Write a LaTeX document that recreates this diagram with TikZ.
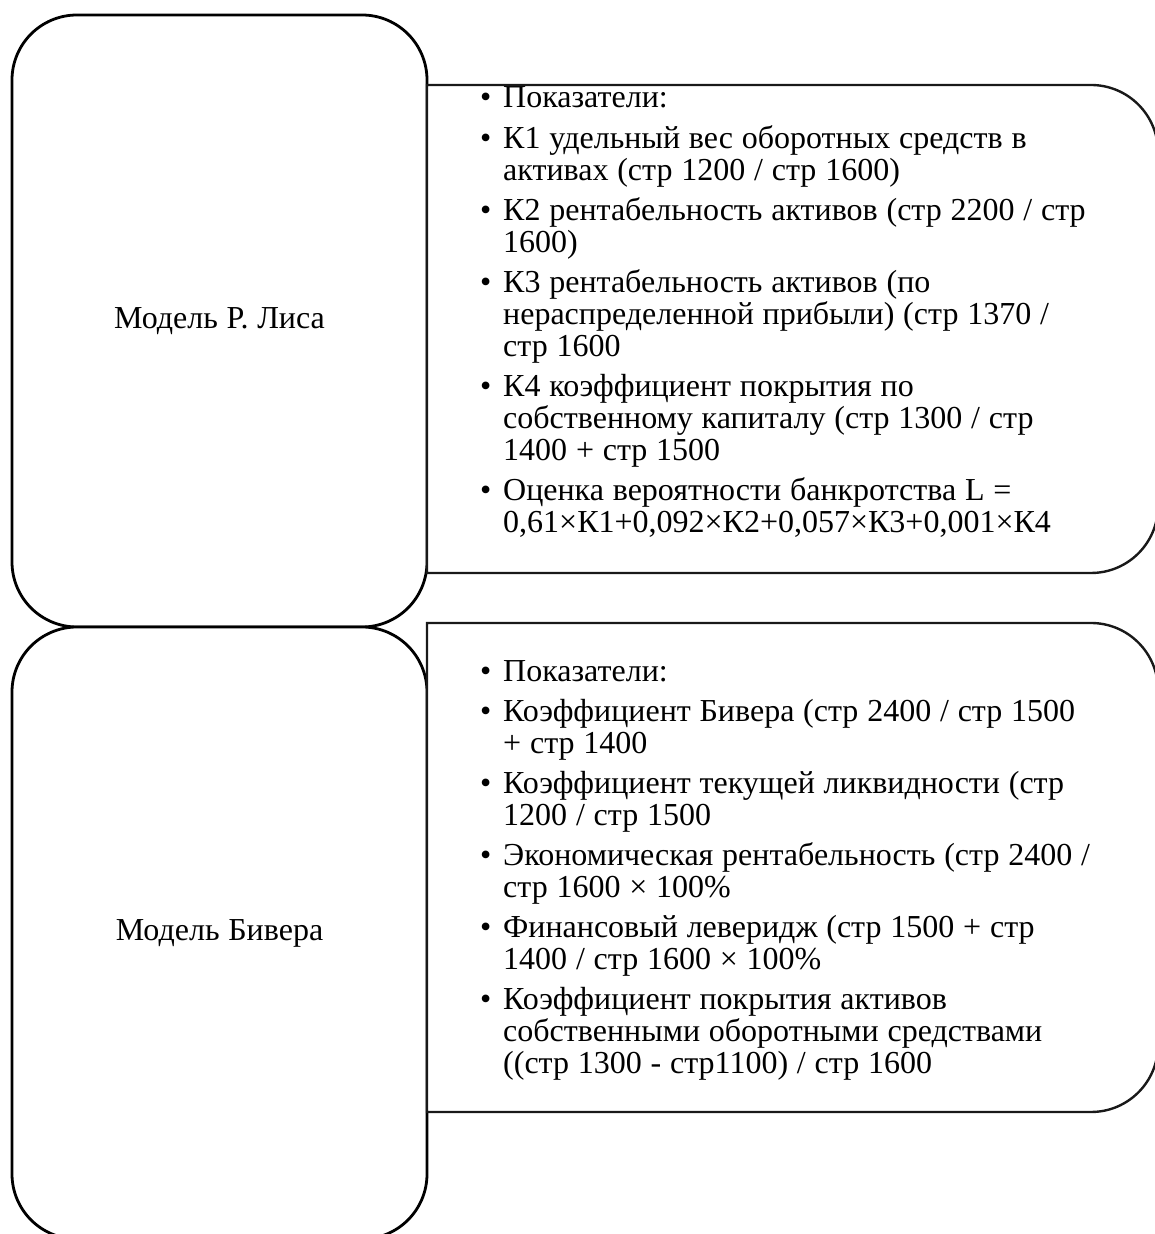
\documentclass[tikz,border=0pt]{standalone}
\usepackage{fontspec}
\setmainfont[WordSpace=1.1]{Liberation Serif}
\newcommand\myitem{\makebox[23pt][l]{•}}
\newcommand\mycont{\hspace*{23pt}}
\newcommand\myfont{\fontsize{32}{32}\selectfont}
\tikzset{
  lbox/.style={draw=black, line width=2.8pt, fill=white, rounded corners=65pt,
    minimum width=415pt, minimum height=612pt, inner sep=0pt,
    font=\myfont},
  rbox/.style={draw=black!90, line width=2.4pt, fill=white},
  txt/.style={inner sep=0pt, text width=660pt, align=flush left, anchor=north west,
    font=\myfont}
}
\begin{document}
\begin{tikzpicture}[x=1pt,y=1pt]
\useasboundingbox (0,0) rectangle (1154,1234);
% left boxes
\node[lbox] (L1) at (219.5,913) {Модель Р. Лиса};
\node[lbox] (L2) at (219.5,301) {Модель Бивера};
% right boxes
\draw[rbox] (427,1149) coordinate (R1a) -- (1091,1149) arc[start angle=90,end angle=0,radius=67pt]
  -- (1158,728) arc[start angle=0,end angle=-90,radius=67pt] -- (427,661) -- cycle;
\draw[rbox] (427,611) coordinate (R2a) -- (1091,611) arc[start angle=90,end angle=0,radius=67pt]
  -- (1158,189) arc[start angle=0,end angle=-90,radius=67pt] -- (427,122) -- cycle;
% texts
\node[txt] (T1) at (480,1149.4) {\strut\myitem Показатели:\\[8pt]
\myitem К1 удельный вес оборотных средств в\\
\mycont активах (стр 1200 / стр 1600)\\[8pt]
\myitem К2 рентабельность активов (стр 2200 / стр\\
\mycont 1600)\\[8pt]
\myitem К3 рентабельность активов (по\\
\mycont нераспределенной прибыли) (стр 1370 /\\
\mycont стр 1600\\[8pt]
\myitem К4 коэффициент покрытия по\\
\mycont собственному капиталу (стр 1300 / стр\\
\mycont 1400 + стр 1500\\[8pt]
\myitem Оценка вероятности банкротства L =\\
\mycont 0,61×К1+0,092×К2+0,057×К3+0,001×К4};
\node[txt] (T2) at (480,575.4) {\strut\myitem Показатели:\\[8pt]
\myitem Коэффициент Бивера (стр 2400 / стр 1500\\
\mycont + стр 1400\\[8pt]
\myitem Коэффициент текущей ликвидности (стр\\
\mycont 1200 / стр 1500\\[8pt]
\myitem Экономическая рентабельность (стр 2400 /\\
\mycont стр 1600 × 100\%\\[8pt]
\myitem Финансовый леверидж (стр 1500 + стр\\
\mycont 1400 / стр 1600 × 100\%\\[8pt]
\myitem Коэффициент покрытия активов\\
\mycont собственными оборотными средствами\\
\mycont ((стр 1300 - стр1100) / стр 1600};
\end{tikzpicture}
\end{document}
